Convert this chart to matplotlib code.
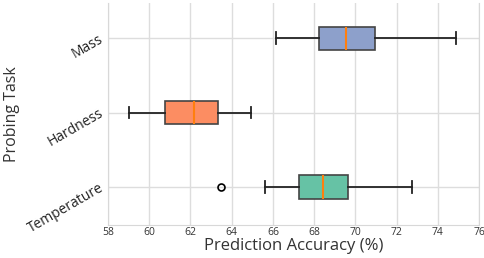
import matplotlib
matplotlib.use("Agg")
import matplotlib.pyplot as plt

tasks = ["Temperature", "Hardness", "Mass"]
whislo = [65.62, 59.02, 66.17]
q1 = [67.27, 60.78, 68.25]
med = [68.45, 62.18, 69.55]
q3 = [69.64, 63.33, 70.96]
whishi = [72.74, 64.94, 74.87]
fliers = [[63.47], [], []]
colors = ["#66c2a5", "#fc8d62", "#8da0cb"]
xticks = [58, 60, 62, 64, 66, 68, 70, 72, 74, 76]

plt.rcParams['font.family'] = ['Open Sans', 'DejaVu Sans']
fig = plt.figure(figsize=(4.84, 2.58), dpi=100)
ax = fig.add_axes([0.223, 0.128, 0.767, 0.86])

stats = []
for i in range(len(tasks)):
    stats.append(dict(label=tasks[i], whislo=whislo[i], q1=q1[i], med=med[i],
                      q3=q3[i], whishi=whishi[i], fliers=fliers[i]))

bp = ax.bxp(stats, positions=[1, 2, 3], vert=False, widths=0.31, patch_artist=True,
            boxprops=dict(edgecolor="#444444", linewidth=1.2),
            medianprops=dict(color="#ff7f0e", linewidth=1.5),
            whiskerprops=dict(color="#222222", linewidth=1.3),
            capprops=dict(color="#222222", linewidth=1.3),
            flierprops=dict(marker="o", markerfacecolor="none", markeredgecolor="black",
                            markersize=5, markeredgewidth=1.2))
for patch, c in zip(bp["boxes"], colors):
    patch.set_facecolor(c)

ax.set_xlim(58, 76)
ax.set_ylim(0.49, 3.47)
ax.set_xticks(xticks)
ax.set_xticklabels([str(t) for t in xticks], fontsize=7.5, color="#333333")
ax.set_yticks([1, 2, 3])
ax.set_yticklabels(tasks, rotation=30, fontsize=10, color="#222222", ha="right", va="center",
                   rotation_mode="anchor")
ax.grid(True, color="#dddddd", linewidth=1)
ax.set_axisbelow(True)
ax.tick_params(axis="x", length=0, pad=1.5)
ax.tick_params(axis="y", length=0, pad=4)
for s in ["left", "right", "bottom"]:
    ax.spines[s].set_color("#d8d8d8")
ax.spines["top"].set_visible(False)
ax.set_xlabel("Prediction Accuracy (%)", fontsize=12, color="#333333", labelpad=0)
ax.set_ylabel("Probing Task", fontsize=11.5, color="#333333", labelpad=4)
fig.savefig("out.png", dpi=100)
